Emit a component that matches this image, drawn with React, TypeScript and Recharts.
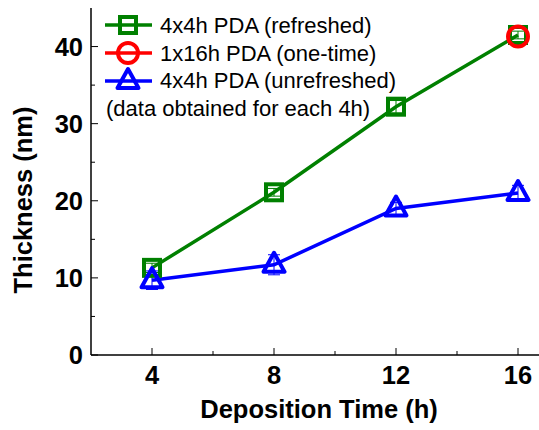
import { LineChart, Line, XAxis, YAxis, ErrorBar } from 'recharts'

// values
const hours = [4, 8, 12, 16]
const refreshed = [11.3, 21.1, 32.2, 41.5]
const refreshedErr = [0.6, 0.5, 0.8, 0.5]
const oneTime = [null, null, null, 41.3]
const unrefreshed = [9.7, 11.7, 19.0, 21.0]
const unrefreshedErr = [1.2, 1.3, 0.8, 1.0]

const xTicks = [4, 6, 8, 10, 12, 14, 16]
const yTicks = [0, 5, 10, 15, 20, 25, 30, 35, 40]

const GREEN = '#008000'
const RED = '#ff0000'
const BLUE = '#0000ff'
const FONT = '"Liberation Sans", Arial, sans-serif'

const data = hours.map((h, i) => ({
  h,
  refreshed: refreshed[i],
  refErr: refreshedErr[i],
  oneTime: oneTime[i],
  unrefreshed: unrefreshed[i],
  unrefErr: unrefreshedErr[i],
}))

// markers (hollow, Origin style)
function Square({ cx, cy, color }: { cx: number; cy: number; color: string }) {
  const size = 16
  const s = size / 2
  return <rect x={cx - s} y={cy - s} width={size} height={size} fill="none" stroke={color} strokeWidth={4} />
}

function Circle({ cx, cy, color }: { cx: number; cy: number; color: string }) {
  return <circle cx={cx} cy={cy} r={10} fill="none" stroke={color} strokeWidth={4} />
}

function Triangle({ cx, cy, color }: { cx: number; cy: number; color: string }) {
  const pts = `${cx},${cy - 12} ${cx + 10.5},${cy + 7} ${cx - 10.5},${cy + 7}`
  return <polygon points={pts} fill="none" stroke={color} strokeWidth={4} strokeLinejoin="round" />
}

const dotOf = (kind: 'sq' | 'ci' | 'tr', color: string) => (p: any) => {
  if (p.cy == null || p.value == null || isNaN(p.cy)) return <g key={p.index} />
  if (kind === 'sq') return <Square key={p.index} cx={p.cx} cy={p.cy} color={color} />
  if (kind === 'ci') return <Circle key={p.index} cx={p.cx} cy={p.cy} color={color} />
  return <Triangle key={p.index} cx={p.cx} cy={p.cy} color={color} />
}

// inward ticks, minor ones shorter
function BottomTick(props: any) {
  const { x, y, payload } = props
  const major = payload.value % 4 === 0
  return (
    <g>
      <line x1={x} x2={x} y1={y} y2={y - (major ? 7 : 4)} stroke="#000" strokeWidth={1} />
      {major && (
        <text x={x} y={y + 29} textAnchor="middle" fontFamily={FONT} fontWeight="bold" fontSize={25.5} fill="#000">
          {payload.value}
        </text>
      )}
    </g>
  )
}

function TopTick(props: any) {
  const { x, y, payload } = props
  const major = payload.value % 4 === 0
  return <line x1={x} x2={x} y1={y} y2={y + (major ? 6 : 3)} stroke="#000" strokeWidth={1} />
}

function LeftTick(props: any) {
  const { x, y, payload } = props
  const major = payload.value % 10 === 0
  return (
    <g>
      <line x1={x} x2={x + (major ? 7 : 4)} y1={y} y2={y} stroke="#000" strokeWidth={1} />
      {major && (
        <text x={x - 8} y={y + 9} textAnchor="end" fontFamily={FONT} fontWeight="bold" fontSize={25.5} fill="#000">
          {payload.value}
        </text>
      )}
    </g>
  )
}

export default function App() {
  return (
    <div style={{ position: 'absolute', left: 0, top: 0, width: 539, height: 430, overflow: 'hidden', background: '#fff' }}>
      <LineChart width={600} height={430} data={data} margin={{ top: 8, right: 21, bottom: 0, left: 0 }}>
        <XAxis
          dataKey="h"
          type="number"
          domain={[2, 18]}
          ticks={xTicks}
          interval={0}
          height={75}
          tickSize={0}
          tickMargin={0}
          tickLine={false}
          tick={<BottomTick />}
          axisLine={{ stroke: '#000', strokeWidth: 1.5 }}
        />
        <XAxis
          xAxisId="top"
          orientation="top"
          dataKey="h"
          type="number"
          domain={[2, 18]}
          ticks={xTicks}
          interval={0}
          height={0}
          tickSize={0}
          tickMargin={0}
          tickLine={false}
          tick={<TopTick />}
          axisLine={{ stroke: '#000', strokeWidth: 1.5 }}
        />
        <YAxis
          type="number"
          domain={[0, 45]}
          ticks={yTicks}
          interval={0}
          width={91}
          tickSize={0}
          tickMargin={0}
          tickLine={false}
          tick={<LeftTick />}
          axisLine={{ stroke: '#000', strokeWidth: 1.5 }}
        />
        <Line
          dataKey="refreshed"
          stroke={GREEN}
          strokeWidth={3.5}
          dot={dotOf('sq', GREEN)}
          activeDot={false}
          isAnimationActive={false}
        >
          <ErrorBar dataKey="refErr" direction="y" width={6} stroke={GREEN} strokeWidth={1} />
        </Line>
        <Line
          dataKey="oneTime"
          stroke={RED}
          strokeWidth={3.5}
          dot={dotOf('ci', RED)}
          activeDot={false}
          isAnimationActive={false}
        />
        <Line
          dataKey="unrefreshed"
          stroke={BLUE}
          strokeWidth={3.5}
          dot={dotOf('tr', BLUE)}
          activeDot={false}
          isAnimationActive={false}
        >
          <ErrorBar dataKey="unrefErr" direction="y" width={6} stroke={BLUE} strokeWidth={1} />
        </Line>
      </LineChart>

      {/* legend and axis titles */}
      <svg width={539} height={430} style={{ position: 'absolute', left: 0, top: 0, pointerEvents: 'none' }}>
        <g fontFamily={FONT} fontSize={22} fill="#000">
          <line x1={105} x2={152} y1={25} y2={25} stroke={GREEN} strokeWidth={3.5} />
          <Square cx={128} cy={25} color={GREEN} />
          <text x={160} y={33}>4x4h PDA (refreshed)</text>

          <line x1={105} x2={152} y1={53} y2={53} stroke={RED} strokeWidth={3.5} />
          <Circle cx={128} cy={53} color={RED} />
          <text x={160} y={61}>1x16h PDA (one-time)</text>

          <line x1={105} x2={152} y1={81} y2={81} stroke={BLUE} strokeWidth={3.5} />
          <Triangle cx={128} cy={81} color={BLUE} />
          <text x={160} y={88}>4x4h PDA (unrefreshed)</text>

          <text x={106} y={116}>(data obtained for each 4h)</text>
        </g>
        <text
          x={319}
          y={418}
          textAnchor="middle"
          fontFamily={FONT}
          fontWeight="bold"
          fontSize={25.5}
          fill="#000"
        >
          Deposition Time (h)
        </text>
        <text
          transform="translate(32,200) rotate(-90)"
          textAnchor="middle"
          fontFamily={FONT}
          fontWeight="bold"
          fontSize={25.5}
          fill="#000"
        >
          Thickness (nm)
        </text>
      </svg>
    </div>
  )
}
